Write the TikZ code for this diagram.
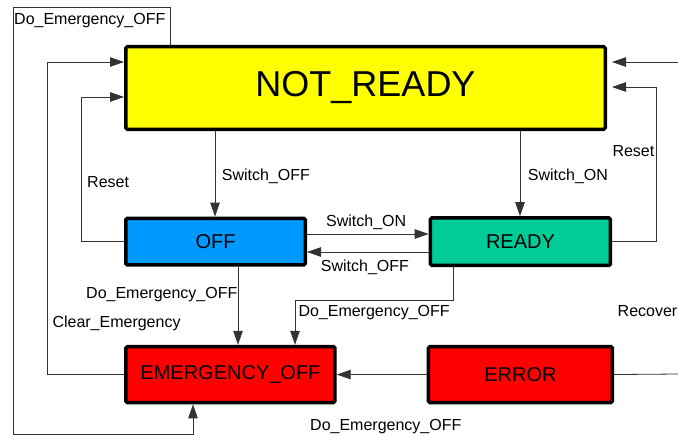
\documentclass[tikz,border=0pt]{standalone}
\usepackage{fontspec}
\setmainfont{Liberation Sans}
\usepackage{tikz}
\usetikzlibrary{arrows.meta,positioning}
\definecolor{nrYellow}{RGB}{255,255,0}
\definecolor{offBlue}{RGB}{0,153,255}
\definecolor{readyGreen}{RGB}{0,204,153}
\definecolor{alarmRed}{RGB}{255,0,0}

\begin{document}
\begin{tikzpicture}[
  x=1pt, y=-1pt,
  font=\fontsize{16}{19}\selectfont,
  >={Triangle[length=14pt,width=9.5pt]},
  state/.style={draw, line width=3.5pt, rounded corners=1.5pt, inner sep=0pt, font=\fontsize{20}{24}\selectfont},
  lbl/.style={anchor=base west, inner sep=0pt},
  wire/.style={line width=0.8pt, draw=black!80},
  arr/.style={wire, ->},
]
\useasboundingbox (0,0) rectangle (678,436);
\node[state, fill=nrYellow, minimum width=479.5pt, minimum height=82.5pt, font=\fontsize{36}{40}\selectfont] (nr) at (365.5,88) {NOT\_READY};
\node[state, fill=offBlue, minimum width=179.5pt, minimum height=46.5pt] (off) at (215.5,241.7) {OFF};
\node[state, fill=readyGreen, minimum width=180pt, minimum height=47.5pt, right=121.7pt of off] (ready) {READY};
\node[state, fill=alarmRed, minimum width=184pt, minimum height=56pt, below=77.6pt of ready] (error) {ERROR};
\node[state, fill=alarmRed, minimum width=209pt, minimum height=56pt, left=90pt of error] (emerg) {EMERGENCY\_OFF};
\coordinate (inR) at (678,62);
\coordinate (outR) at (678,374);
\draw[arr] (nr.north -| 170,0) |- (13,7) |- (193,434) -- (emerg.south -| 193,0);
\draw[arr] (emerg.west) -| (47,62) -- (nr.west |- 0,62);
\draw[arr] (off.west) -| (81,97) -- (nr.west |- 0,97);
\draw[arr] (nr.south -| 215,0) -- (off.north -| 215,0);
\draw[arr] (nr.south -| 520,0) -- (ready.north -| 520,0);
\draw[arr] (off.east |- 0,234) -- (ready.west |- 0,234);
\draw[arr] (ready.west |- 0,252) -- (off.east |- 0,252);
\draw[arr] (off.south -| 238,0) -- (emerg.north -| 238,0);
\draw[arr] (ready.south -| 453,0) |- (295,300) -- (emerg.north -| 295,0);
\draw[arr] (error.west) -- (emerg.east);
\draw[arr, shorten >=5pt] (ready.east) -| (656,87) -- (nr.east |- 0,87);
\draw[arr, shorten >=5pt] (inR) -- (nr.east |- inR);
\draw[wire] (error.east) -- (outR);
\node[lbl] (lTop) at (14,24.5) {Do\_Emergency\_OFF};
\node[lbl] (lResetL) at (87,187) {Reset};
\node[lbl] (lSwOffV) at (221.7,180) {Switch\_OFF};
\node[lbl] (lSwOnV) at (527.7,180) {Switch\_ON};
\node[lbl] (lResetR) at (612.3,156) {Reset};
\node[lbl] (lSwOnH) at (326,226.7) {Switch\_ON};
\node[lbl] (lSwOffH) at (320.7,271.7) {Switch\_OFF};
\node[lbl] (lEmOff) at (86,298.3) {Do\_Emergency\_OFF};
\node[lbl] (lClear) at (52.3,327.7) {Clear\_Emergency};
\node[lbl] (lEmReady) at (298.3,316.7) {Do\_Emergency\_OFF};
\node[lbl] (lRecover) at (617.5,316.7) {Recover};
\node[lbl] (lBottom) at (310,430) {Do\_Emergency\_OFF};
\end{tikzpicture}
\end{document}
